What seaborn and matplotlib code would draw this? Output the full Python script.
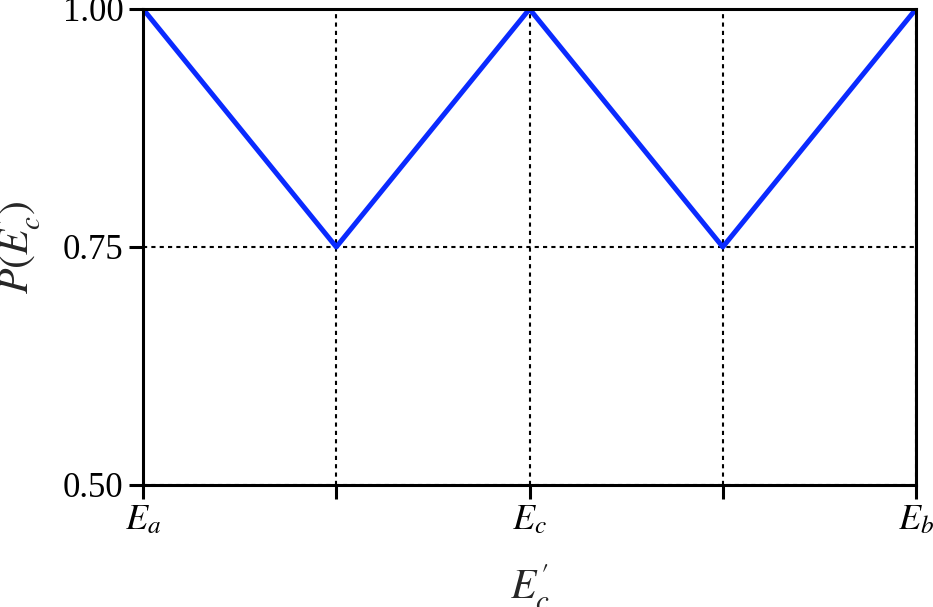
import numpy as np
import pandas as pd
import matplotlib
matplotlib.use("Agg")
import matplotlib.pyplot as plt
import seaborn as sns

# data
energy = [0.0, 0.25, 0.5, 0.75, 1.0]
prob = [1.0, 0.75, 1.0, 0.75, 1.0]
x_ticks = [0.0, 0.25, 0.5, 0.75, 1.0]
x_labels = [r"$E_a$", "", r"$E_c$", "", r"$E_b$"]
y_ticks = [0.50, 0.75, 1.00]
y_labels = ["0.50", "0.75", "1.00"]

sns.set_theme(style="ticks")
plt.rcParams["font.family"] = ["Liberation Serif", "DejaVu Serif"]
plt.rcParams["mathtext.fontset"] = "stix"

df = pd.DataFrame({"E": energy, "P": prob})

fig = plt.figure(figsize=(9.33, 6.07), dpi=100)
ax = fig.add_axes([0.1533, 0.201, 0.8285, 0.7842])

ax.grid(True, color="black", linestyle=(0, (2, 2)), linewidth=1.5)
sns.lineplot(data=df, x="E", y="P", ax=ax, color="#0a2aff", linewidth=3.6, zorder=3)

ax.set_xlim(0, 1)
ax.set_ylim(0.5, 1.0)
ax.set_xticks(x_ticks)
ax.set_xticklabels(x_labels)
ax.set_yticks(y_ticks)
ax.set_yticklabels(y_labels)

for s in ax.spines.values():
    s.set_visible(True)
    s.set_linewidth(2.2)
    s.set_color("black")
    s.set_zorder(4)
ax.tick_params(axis="both", direction="out", length=10, width=2.2, colors="black",
               labelsize=25, pad=4)
ax.tick_params(axis="x", labelsize=26)

ax.set_xlabel(r"$E_c'$", fontsize=30, labelpad=18)
ax.set_ylabel(r"$P(E_c')$", fontsize=30, labelpad=14)

fig.savefig("out.png", dpi=100)
